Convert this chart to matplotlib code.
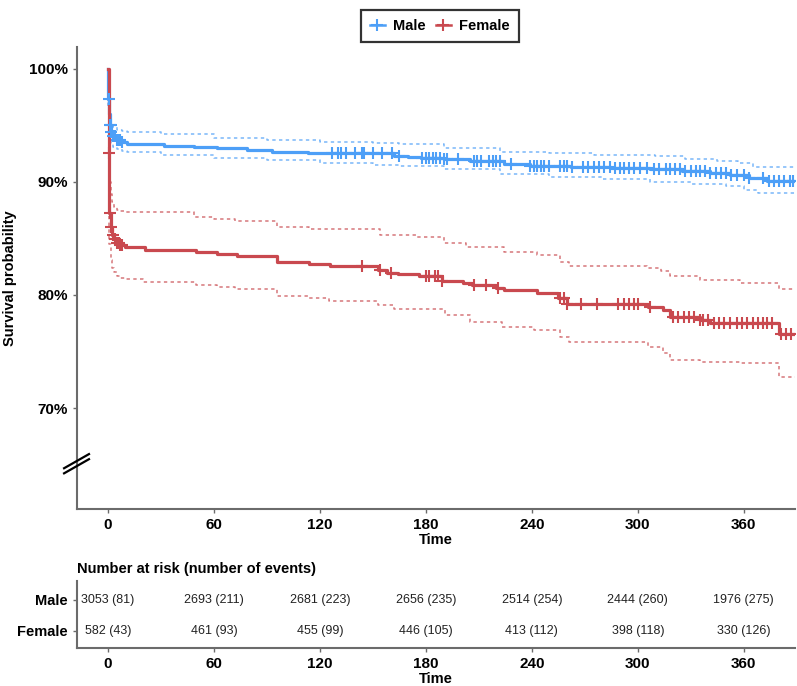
import numpy as np
import matplotlib
matplotlib.use("Agg")
import matplotlib.pyplot as plt
from matplotlib.lines import Line2D
import matplotlib.transforms as mtransforms

plt.rcParams['font.family'] = ['Liberation Sans', 'DejaVu Sans']

# ---------------- data ----------------
groups = ["Male", "Female"]

male_t = [0, 0.3, 0.6, 1, 2, 3, 5, 8, 11, 32, 49, 62, 79, 93, 113, 140, 162, 170, 177, 190, 205,
          224, 239, 262, 285, 307, 325, 341, 352, 363, 373]
male_s = [100, 97.3, 96.0, 95.0, 94.4, 94.0, 93.7, 93.5, 93.3, 93.2, 93.1, 93.0, 92.8, 92.65, 92.55,
          92.5, 92.3, 92.2, 92.1, 92.0, 91.8, 91.6, 91.4, 91.3, 91.2, 91.1, 90.95, 90.8, 90.6, 90.35, 90.1]
male_up_t = [0, 0.3, 1, 2, 3, 5, 8, 11, 30, 60, 90, 120, 150, 165, 190, 222, 250, 275, 310, 327,
             345, 357, 365]
male_up_s = [100, 98.0, 95.8, 95.1, 94.8, 94.6, 94.5, 94.4, 94.2, 93.9, 93.7, 93.55, 93.4, 93.3,
             93.0, 92.65, 92.55, 92.4, 92.25, 92.0, 91.8, 91.65, 91.3]
male_lo_t = [0, 0.3, 1, 2, 3, 5, 8, 11, 30, 60, 90, 120, 150, 165, 190, 222, 250, 280, 307, 330,
             350, 360, 368]
male_lo_s = [100, 96.6, 94.2, 93.4, 93.1, 92.9, 92.7, 92.6, 92.4, 92.1, 91.9, 91.7, 91.5, 91.4,
             91.1, 90.7, 90.45, 90.2, 90.0, 89.8, 89.6, 89.3, 89.0]
male_cens = [0.5, 1, 1.5, 2, 3, 4, 5, 6, 7, 8, 127, 130, 132, 135, 140, 144, 145, 150, 155, 161,
             165, 178, 180, 182, 184, 186, 188, 190, 192, 198, 207, 209, 211, 216, 218, 220, 222,
             228, 239, 241, 243, 245, 247, 250, 256, 258, 260, 263, 269, 272, 275, 278, 281, 284,
             287, 290, 292, 295, 298, 301, 305, 309, 312, 316, 318, 321, 324, 327, 330, 333, 335,
             338, 341, 344, 347, 350, 353, 356, 360, 363, 371, 374, 377, 380, 383, 386, 388]

female_t = [0, 0.4, 0.8, 1.5, 2.5, 3.5, 5, 7, 9.6, 21, 50, 62, 73, 96, 114, 126, 153, 158, 164,
            176, 189, 201, 206, 220, 224, 243, 255, 260, 306, 314, 318, 335, 341, 380]
female_s = [100, 92.5, 87.2, 86.0, 85.3, 84.9, 84.6, 84.4, 84.2, 83.95, 83.8, 83.6, 83.45, 82.9,
            82.7, 82.55, 82.2, 81.95, 81.85, 81.7, 81.25, 81.1, 80.9, 80.6, 80.4, 80.2, 79.7, 79.2,
            78.9, 78.7, 78.1, 77.8, 77.5, 76.55]
female_up_t = [0, 0.4, 0.8, 1.5, 2.5, 3.5, 5, 7, 9.6, 49, 60, 72, 96, 114, 154, 175, 190, 203,
               224, 243, 256, 261, 305, 313, 318, 335, 358, 380]
female_up_s = [100, 94.6, 90.0, 88.9, 88.2, 87.8, 87.5, 87.4, 87.3, 86.9, 86.7, 86.55, 86.0, 85.8,
               85.3, 85.1, 84.6, 84.2, 83.8, 83.5, 82.9, 82.55, 82.4, 82.1, 81.7, 81.3, 81.1, 80.5]
female_lo_t = [0, 0.4, 0.8, 1.5, 2.5, 3.5, 5, 7, 9.6, 20, 50, 62, 72, 96, 114, 125, 153, 162, 191,
               205, 223, 241, 256, 261, 306, 314, 318, 335, 358, 380]
female_lo_s = [100, 90.4, 84.5, 83.1, 82.4, 82.0, 81.7, 81.5, 81.4, 81.15, 80.9, 80.7, 80.5, 79.9,
               79.7, 79.5, 79.1, 78.75, 78.2, 77.6, 77.2, 76.9, 76.3, 75.85, 75.4, 74.9, 74.3,
               74.1, 74.0, 72.8]
female_cens = [0.5, 1, 2, 3, 4, 5, 6, 7, 8, 144, 154, 160, 180, 182, 185, 187, 189, 207, 214, 221,
               256, 258, 260, 268, 277, 289, 292, 295, 298, 300, 307, 320, 323, 326, 329, 332, 335,
               337, 340, 343, 346, 349, 352, 356, 359, 362, 365, 368, 371, 373, 376, 381, 384, 387]

risk_times = [0, 60, 120, 180, 240, 300, 360]
male_risk = ["3053 (81)", "2693 (211)", "2681 (223)", "2656 (235)", "2514 (254)", "2444 (260)", "1976 (275)"]
female_risk = ["582 (43)", "461 (93)", "455 (99)", "446 (105)", "413 (112)", "398 (118)", "330 (126)"]

y_ticks = [70, 80, 90, 100]

# ---------------- style ----------------
c_male = "#4d9ff7"
c_female = "#c9494f"
spine_c = "#6b6b6b"
XMAX = 389
XMIN = -17.5

fig = plt.figure(figsize=(7.97, 6.86), dpi=100)
ax = fig.add_axes([77/797, 1-509/686, 718/797, (509-47)/686])


def step_val(t_arr, s_arr, x):
    t_arr = np.asarray(t_arr); s_arr = np.asarray(s_arr)
    idx = np.searchsorted(t_arr, x, side='right') - 1
    return s_arr[np.clip(idx, 0, len(s_arr)-1)]


def ext(t, s):
    return list(t) + [XMAX], list(s) + [s[-1]]


for (t, s, ut, us, lt, ls, cens, col) in [
        (male_t, male_s, male_up_t, male_up_s, male_lo_t, male_lo_s, male_cens, c_male),
        (female_t, female_s, female_up_t, female_up_s, female_lo_t, female_lo_s, female_cens, c_female)]:
    tt, ss = ext(ut, us)
    ax.step(tt, ss, where='post', color=col, lw=1.1, ls=(0, (2.2, 2.2)), alpha=0.75, zorder=2)
    tt, ss = ext(lt, ls)
    ax.step(tt, ss, where='post', color=col, lw=1.1, ls=(0, (2.2, 2.2)), alpha=0.75, zorder=2)
    tt, ss = ext(t, s)
    ax.step(tt, ss, where='post', color=col, lw=2.3, zorder=3)
    cens = np.asarray(cens, dtype=float)
    ax.plot(cens, step_val(t, s, cens), ls='none', marker='+', ms=8, mew=1.5, color=col, zorder=4)

ax.set_xlim(XMIN, XMAX)
ax.set_ylim(61.1, 101.9)
ax.set_yticks(y_ticks)
ax.set_yticklabels([f"{v}%" for v in y_ticks])
ax.set_xticks(risk_times)
ax.set_xlabel("Time", fontsize=10.5, fontweight='bold', labelpad=1)
ax.set_ylabel("Survival probability", fontsize=10.5, fontweight='bold')
ax.yaxis.set_label_coords(-0.083, 0.5)
for lab in ax.get_xticklabels() + ax.get_yticklabels():
    lab.set_fontweight('bold')
ax.tick_params(axis='both', labelsize=11, color=spine_c, length=3, width=1)
for sp in ['top', 'right']:
    ax.spines[sp].set_visible(False)
for sp in ['left', 'bottom']:
    ax.spines[sp].set_color(spine_c)
    ax.spines[sp].set_linewidth(1.5)

# axis break marks
btr = mtransforms.blended_transform_factory(ax.transAxes, ax.transData)
for dy in [0, -0.45]:
    ax.add_line(Line2D([-0.018, 0.0167], [64.7 + dy, 65.95 + dy], transform=btr, color='black',
                       lw=1.6, clip_on=False, zorder=6))

# legend
handles = [Line2D([0], [0], color=c_male, marker='+', ms=8, mew=1.5, lw=1.8),
           Line2D([0], [0], color=c_female, marker='+', ms=8, mew=1.5, lw=1.8)]
leg = fig.legend(handles, groups, loc='upper center', bbox_to_anchor=(440/797, 1-3/686), ncol=2,
                 frameon=True, fancybox=False, prop={'weight': 'bold', 'size': 10.5},
                 handlelength=1.0, handletextpad=0.6, columnspacing=0.7, borderpad=0.6)
leg.get_frame().set_edgecolor('black')
leg.get_frame().set_linewidth(1.6)

# risk table
axr = fig.add_axes([77/797, 1-648/686, 718/797, (648-581)/686])
axr.set_xlim(XMIN, XMAX)
axr.set_ylim(-0.55, 1.61)
for x, m, f in zip(risk_times, male_risk, female_risk):
    axr.text(x, 1, m, ha='center', va='center', fontsize=9, color='#222222')
    axr.text(x, 0, f, ha='center', va='center', fontsize=9, color='#222222')
axr.set_yticks([1, 0])
axr.set_yticklabels(groups)
axr.set_xticks(risk_times)
axr.set_xlabel("Time", fontsize=10.5, fontweight='bold', labelpad=1)
for lab in axr.get_xticklabels() + axr.get_yticklabels():
    lab.set_fontweight('bold')
axr.tick_params(axis='both', labelsize=11, color=spine_c, length=3, width=1)
axr.tick_params(axis='y', labelsize=10.5)
for sp in ['top', 'right']:
    axr.spines[sp].set_visible(False)
for sp in ['left', 'bottom']:
    axr.spines[sp].set_color(spine_c)
    axr.spines[sp].set_linewidth(1.5)
axr.set_title("Number at risk (number of events)", loc='left', fontsize=10.5, fontweight='bold', pad=6)

fig.savefig("out.png", dpi=100)
